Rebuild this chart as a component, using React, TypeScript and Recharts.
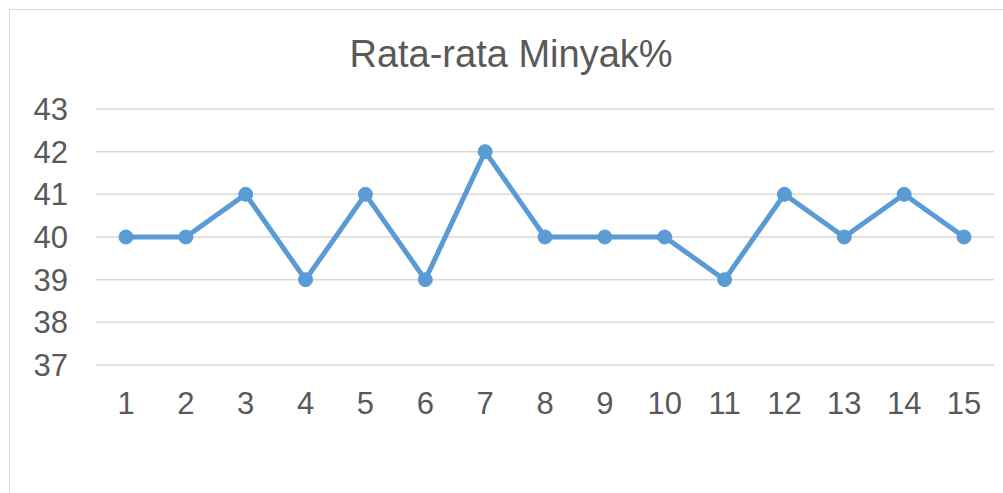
import { LineChart, Line, XAxis, YAxis, CartesianGrid } from 'recharts';

const categories = ['1', '2', '3', '4', '5', '6', '7', '8', '9', '10', '11', '12', '13', '14', '15'];
const minyak = [40, 40, 41, 39, 41, 39, 42, 40, 40, 40, 39, 41, 40, 41, 40];
const yTicks = [37, 38, 39, 40, 41, 42, 43];

const data = categories.map((c, i) => ({ name: c, value: minyak[i] }));

const font = '"Liberation Sans", Arial, sans-serif';
const textColor = '#595959';

export default function App() {
  return (
    <div style={{ position: 'absolute', left: 0, top: 0, width: 1003, height: 493, overflow: 'hidden', background: '#fff' }}>
      <div
        style={{
          position: 'absolute',
          left: 9,
          top: 9,
          width: 1100,
          height: 600,
          border: '1px solid #d9d9d9',
        }}
      />
      <div
        style={{
          position: 'absolute',
          left: 0,
          top: 35,
          width: 1022,
          textAlign: 'center',
          fontFamily: font,
          fontSize: 38,
          lineHeight: '38px',
          color: textColor,
        }}
      >
        Rata-rata Minyak%
      </div>
      <div style={{ position: 'absolute', left: 0, top: 0 }}>
        <LineChart width={1003} height={493} data={data} margin={{ top: 109, right: 9, bottom: 68, left: 0 }}>
          <CartesianGrid vertical={false} stroke="#d9d9d9" strokeWidth={1.5} />
          <XAxis
            dataKey="name"
            axisLine={false}
            tickLine={false}
            tickSize={0}
            tickMargin={27}
            height={60}
            interval={0}
            padding={{ left: 30, right: 30 }}
            tick={{ fontSize: 31, fill: textColor, fontFamily: font }}
          />
          <YAxis
            domain={[37, 43]}
            ticks={yTicks}
            axisLine={false}
            tickLine={false}
            tickSize={0}
            tickMargin={28}
            width={96}
            interval={0}
            tick={{ fontSize: 31, fill: textColor, fontFamily: font }}
          />
          <Line
            type="linear"
            dataKey="value"
            stroke="#5b9bd5"
            strokeWidth={5}
            dot={{ r: 7, fill: '#5b9bd5', stroke: '#5b9bd5', strokeWidth: 1 }}
            isAnimationActive={false}
          />
        </LineChart>
      </div>
    </div>
  );
}
